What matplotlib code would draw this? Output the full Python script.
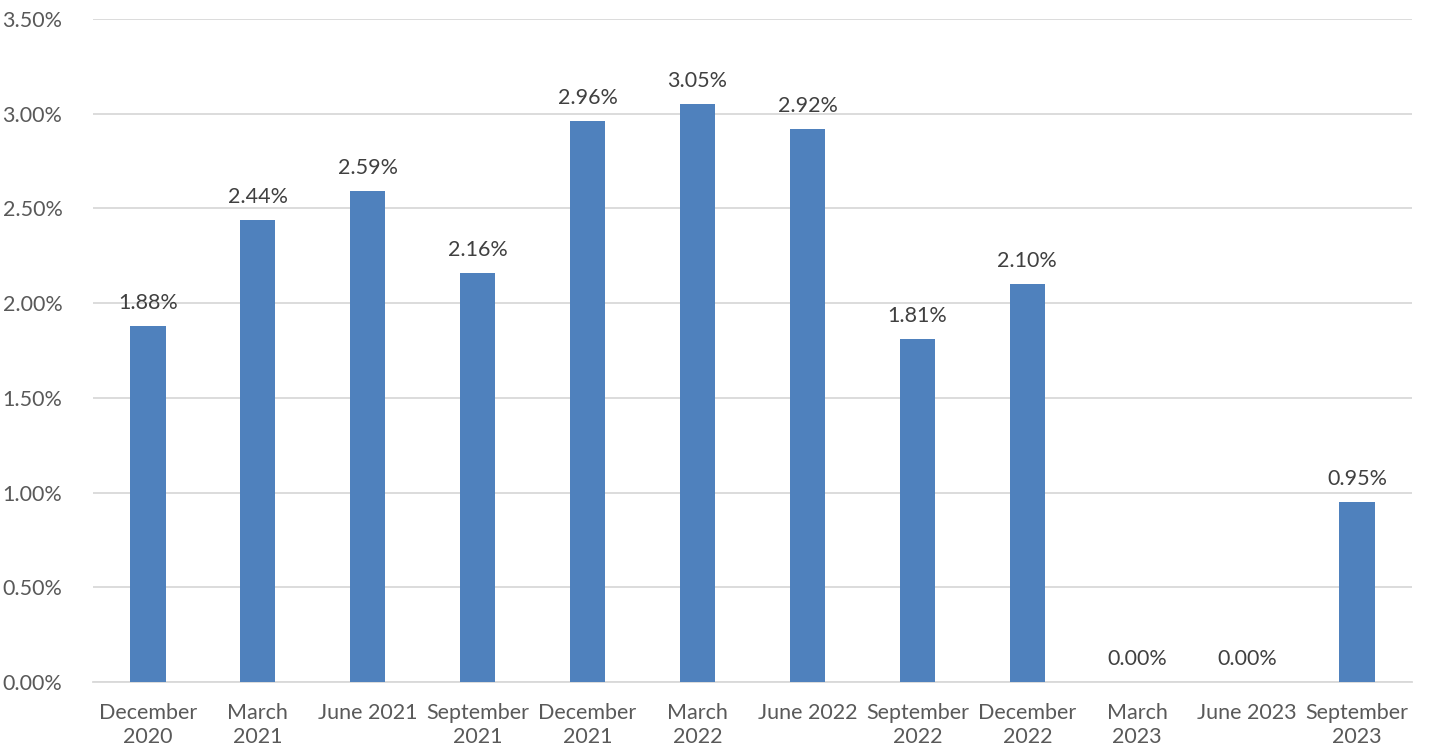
import matplotlib.pyplot as plt
import numpy as np

plt.rcParams['font.family'] = ['Lato', 'DejaVu Sans']

quarters = ['December\n2020', 'March\n2021', 'June 2021', 'September\n2021',
            'December\n2021', 'March\n2022', 'June 2022', 'September\n2022',
            'December\n2022', 'March\n2023', 'June 2023', 'September\n2023']
rates = [1.88, 2.44, 2.59, 2.16, 2.96, 3.05, 2.92, 1.81, 2.10, 0.00, 0.00, 0.95]

text_col = '#595959'
fig = plt.figure(figsize=(14.34, 7.54), dpi=100)
ax = fig.add_axes([93/1434, 72/754, 1319/1434, 663/754])

x = np.arange(len(quarters))
ax.bar(x, rates, width=0.32, color='#4f81bd', zorder=3)
for xi, r in zip(x, rates):
    ax.text(xi, r + 0.07, f'{r:.2f}%', ha='center', va='bottom',
            fontsize=15.5, color='#404040')

ax.set_xlim(-0.5, len(quarters) - 0.5)
ax.set_ylim(0, 3.5)
ax.set_yticks(np.arange(0, 3.51, 0.5))
ax.set_yticklabels([f'{v:.2f}%' for v in np.arange(0, 3.51, 0.5)])
ax.set_xticks(x)
ax.set_xticklabels(quarters, linespacing=1.25)
ax.tick_params(axis='both', length=0, labelsize=15.5, labelcolor=text_col)
ax.tick_params(axis='x', pad=15)
ax.tick_params(axis='y', pad=22)
ax.grid(axis='y', color='#d9d9d9', linewidth=1.3, zorder=0)
for s in ['top', 'right', 'left']:
    ax.spines[s].set_visible(False)
ax.spines['bottom'].set_color('#d9d9d9')
ax.spines['bottom'].set_linewidth(1.3)

fig.savefig('out.png')
